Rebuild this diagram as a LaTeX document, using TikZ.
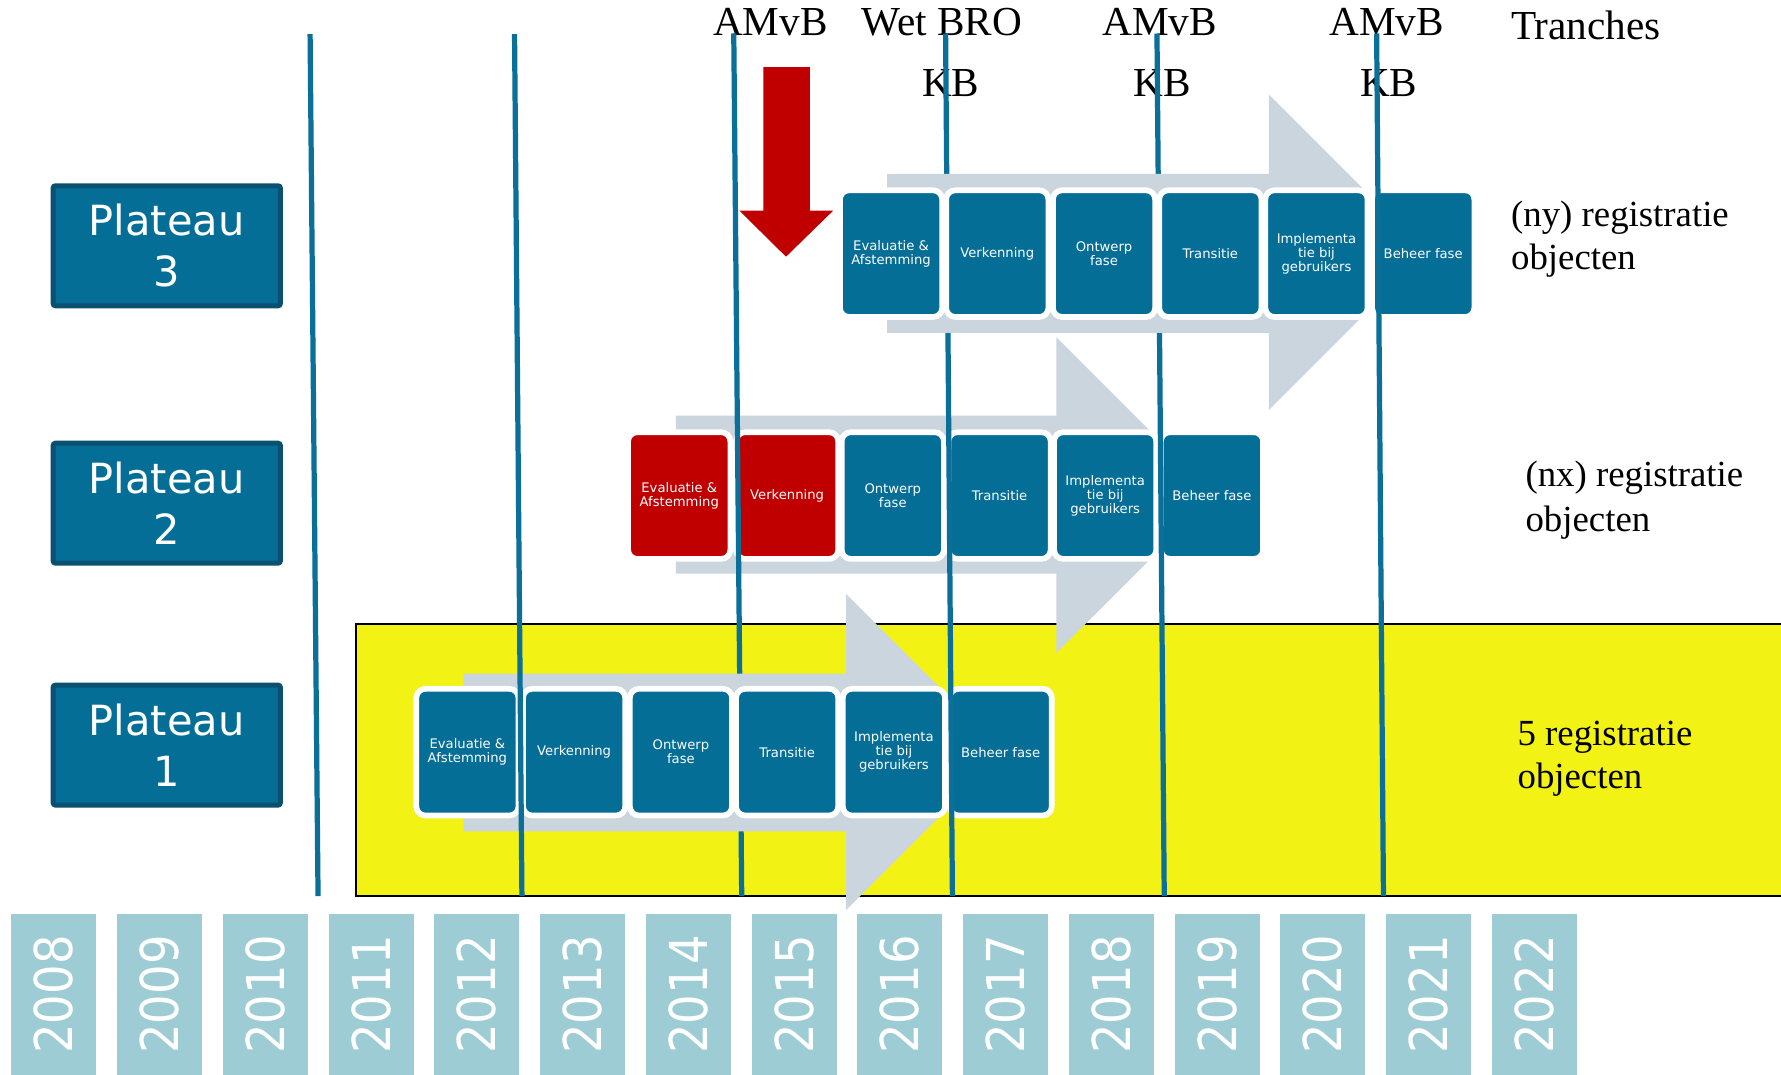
\documentclass[tikz,border=0pt]{standalone}
\usepackage{fontspec}
\setmainfont{Liberation Serif}
\newfontfamily\dvsans{DejaVu Sans}
\usepackage{graphicx}
\definecolor{boxblue}{HTML}{046E97}
\definecolor{platdark}{HTML}{0A5070}
\definecolor{yearfill}{HTML}{9DCCD4}
\definecolor{linecol}{HTML}{0A6F99}
\definecolor{grayarrow}{HTML}{CBD5DD}
\definecolor{yellowbg}{HTML}{F2F215}
\definecolor{redc}{HTML}{C00000}
\tikzset{
  phase/.style={draw=white, line width=2.5pt, rounded corners=4pt, minimum width=45pt, minimum height=55.75pt, inner sep=0pt, align=center, text=white, font=\dvsans\fontsize{5.8pt}{6.2pt}\selectfont},
  bluephase/.style={phase, fill=boxblue},
  redphase/.style={phase, fill=redc},
  plateau/.style={draw=platdark, fill=boxblue, line width=2.2pt, rounded corners=1pt, minimum width=100pt, minimum height=52.8pt, inner sep=0pt, align=center, text=white, font=\dvsans\fontsize{18.3pt}{22.3pt}\selectfont},
  vline/.style={draw=linecol, line width=2.3pt},
  garrow/.style={fill=grayarrow},
  yearbox/.style={fill=yearfill, rotate=90, minimum width=70.5pt, minimum height=37.4pt, inner sep=0pt, text=white, font=\dvsans\fontsize{23pt}{23pt}\selectfont},
  toplabel/.style={anchor=base west, inner sep=0pt, font=\fontsize{18.15pt}{20pt}\selectfont},
  sidelabel/.style={anchor=base west, inner sep=0pt, font=\fontsize{16.2pt}{18pt}\selectfont}
}
\begin{document}
\begin{tikzpicture}[x=0.5pt,y=-0.5pt]
\useasboundingbox (0,0) rectangle (1568,946);
\fill[white] (0,0) rectangle (1568,946);

% yellow band
\draw[fill=yellowbg, draw=black, line width=0.9pt] (313,549) rectangle (1580,789);

% line coordinates
\coordinate (l1t) at (273,30);   \coordinate (l1b) at (280,789);
\coordinate (l2t) at (453,30);   \coordinate (l2b) at (459.5,789);
\coordinate (l3t) at (646,29.5); \coordinate (l3b) at (653,789);
\coordinate (l4t) at (832.5,29.5); \coordinate (l4b) at (838.5,789);
\coordinate (l5t) at (1018.6,29.5); \coordinate (l5b) at (1025,789);
\coordinate (l6t) at (1212,29.5); \coordinate (l6b) at (1218,789);

% top labels
\node[toplabel] (amvb1) at (627.5,31.4) {AMvB};
\node[toplabel] (wetbro) at (758,31.4) {Wet BRO};
\node[toplabel] (amvb2) at (970,31.4) {AMvB};
\node[toplabel] (amvb3) at (1170,31.4) {AMvB};
\node[toplabel] (tranches) at (1330,35.2) {Tranches};
\node[toplabel] (kb1) at (811.5,85) {KB};
\node[toplabel] (kb2) at (997.3,85) {KB};
\node[toplabel] (kb3) at (1197,85) {KB};

% right labels
\node[sidelabel] (r3a) at (1330,199) {(ny) registratie};
\node[sidelabel] (r3b) at (1330,237.7) {objecten};
\node[sidelabel] (r2a) at (1342.7,428.5) {(nx) registratie};
\node[sidelabel] (r2b) at (1342.7,468) {objecten};
\node[sidelabel] (r1a) at (1335.7,656) {5 registratie};
\node[sidelabel] (r1b) at (1335.7,694.5) {objecten};

% plateau 2 arrow and phases
\fill[garrow] (595,366) -- (930,366) -- (930,297) -- (1069,436) -- (930,575) -- (930,505) -- (595,505) -- cycle;
\node[redphase]  (p2a) at (598,436.3) {Evaluatie \&\\Afstemming};
\node[redphase]  (p2b) at (693,436.3) {Verkenning};
\node[bluephase] (p2c) at (786,436.3) {Ontwerp\\fase};
\node[bluephase] (p2d) at (880,436.3) {Transitie};
\node[bluephase] (p2e) at (973,436.3) {Implementa\\tie bij\\gebruikers};
\node[bluephase] (p2f) at (1067,436.3) {Beheer fase};

% line behind plateau 1
\draw[vline] (l3t) -- (l3b);

% plateau 1 arrow and phases
\fill[garrow] (408,593) -- (745,593) -- (745,523) -- (884,662) -- (745,801) -- (745,732) -- (408,732) -- cycle;
\node[bluephase] (p1a) at (411.5,662.2) {Evaluatie \&\\Afstemming};
\node[bluephase] (p1b) at (505.5,662.2) {Verkenning};
\node[bluephase] (p1c) at (599.5,662.2) {Ontwerp\\fase};
\node[bluephase] (p1d) at (693,662.2) {Transitie};
\node[bluephase] (p1e) at (787,662.2) {Implementa\\tie bij\\gebruikers};
\node[bluephase] (p1f) at (881,662.2) {Beheer fase};

% lines behind plateau 3
\draw[vline] (l4t) -- (l4b);
\draw[vline] (l5t) -- (l5b);

% plateau 3 arrow and phases
\fill[garrow] (781,153) -- (1117,153) -- (1117,83) -- (1256,222) -- (1117,361) -- (1117,293) -- (781,293) -- cycle;
\node[bluephase] (p3a) at (784.5,223.3) {Evaluatie \&\\Afstemming};
\node[bluephase] (p3b) at (878,223.3) {Verkenning};
\node[bluephase] (p3c) at (972,223.3) {Ontwerp\\fase};
\node[bluephase] (p3d) at (1065.6,223.3) {Transitie};
\node[bluephase] (p3e) at (1159,223.3) {Implementa\\tie bij\\gebruikers};
\node[bluephase] (p3f) at (1253,223.3) {Beheer fase};

% lines on top
\draw[vline] (l1t) -- (l1b);
\draw[vline] (l2t) -- (l2b);
\draw[vline] (l6t) -- (l6b);

% red arrow
\fill[redc] (672,59) -- (713,59) -- (713,185.5) -- (733.5,185.5) -- (692,226) -- (651,185.5) -- (672,185.5) -- cycle;

% plateau boxes
\node[plateau] (pl3) at (146.8,216.4) {Plateau\\3};
\node[plateau] (pl2) at (146.8,443) {Plateau\\2};
\node[plateau] (pl1) at (146.8,656) {Plateau\\1};

% years
\foreach \yr [count=\i from 0] in {2008,...,2022} {
  \node[yearbox] (yr\yr) at ({47.4+93.1*\i},875.5) {\scalebox{0.89}[1]{\yr}};
}
\end{tikzpicture}
\end{document}
